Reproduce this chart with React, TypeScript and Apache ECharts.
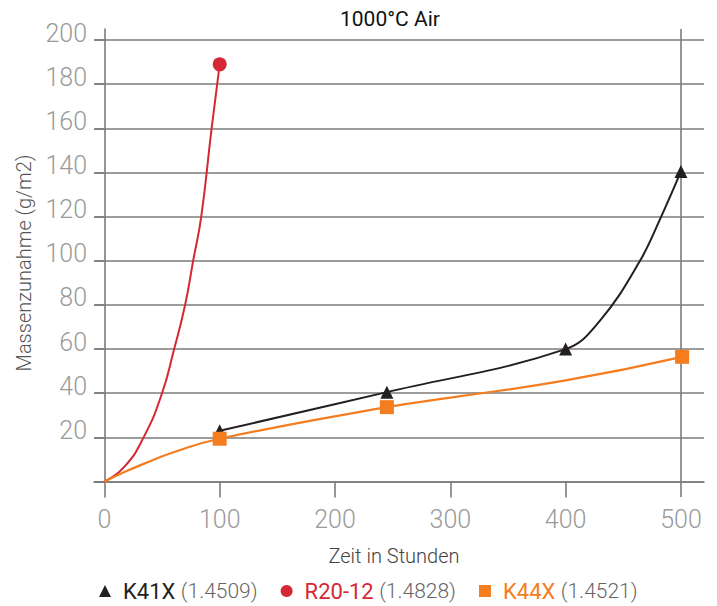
import React, { useEffect, useRef } from "react";
import * as echarts from "echarts";

// ---- data ----
const xTickValues = [0, 100, 200, 300, 400, 500];
const xMinorTickValues = [100, 200, 300, 400];
const yTickValues = [0, 20, 40, 60, 80, 100, 120, 140, 160, 180, 200];

const seriesNames = ["K41X", "R20-12", "K44X"];
const seriesCodes = ["(1.4509)", "(1.4828)", "(1.4521)"];

// measured points (with markers)
const k41xPoints = [
  [100, 23],
  [245, 40.5],
  [400, 60],
  [500, 140.5],
];
const r2012Points = [[100, 189]];
const k44xPoints = [
  [100, 19.4],
  [245, 33.7],
  [501, 56.5],
];

// additional points (no markers)
const k41xCurveRead = [
  [430, 73],
  [464.5, 100],
  [482, 119],
];
const r2012CurveRead = [
  [0, 0],
  [17, 6.5],
  [34, 20],
  [50, 40],
  [60, 59],
  [70, 80],
  [77, 100],
  [84, 120],
  [93, 160],
];
const k44xCurveRead = [
  [0, 0],
  [17, 4.2],
  [34, 8],
  [60, 13.3],
  [300, 38],
  [400, 45.8],
];

const COLORS = ["#231f20", "#d42834", "#f47d20"];
const SYMBOLS = ["triangle", "circle", "rect"];
const RICH_KEYS = ["k41", "r20", "k44"];
const GRID_COLOR = "#7b7b7b";
const FONT = "Roboto, 'Open Sans', sans-serif";

const merge = (a: number[][], b: number[][]) =>
  [...a, ...b].sort((p, q) => p[0] - q[0]);

export default function App() {
  const ref = useRef<HTMLDivElement>(null);

  useEffect(() => {
    if (!ref.current) return;
    const chart = echarts.init(ref.current, undefined, { renderer: "svg" });

    const measured = [k41xPoints, r2012Points, k44xPoints];
    const curves = [k41xCurveRead, r2012CurveRead, k44xCurveRead];
    const smooths = [0.4, 0.5, 0.5];
    const widths = [2, 2, 2.2];
    const sizes = [13, 14, 14];

    const lineSeries: any[] = seriesNames.map((name, i) => ({
      type: "line",
      name,
      data: merge(measured[i], curves[i]),
      showSymbol: false,
      smooth: smooths[i],
      color: COLORS[i],
      lineStyle: { color: COLORS[i], width: widths[i] },
      silent: true,
      z: 3,
      ...(i === 0
        ? {
            markLine: {
              silent: true,
              symbol: ["none", "none"],
              label: { show: false },
              lineStyle: { color: GRID_COLOR, width: 1.6, type: "solid" },
              emphasis: { disabled: true },
              data: [{ xAxis: 500 }],
              z: 1,
            },
          }
        : {}),
    }));

    const scatterSeries: any[] = seriesNames.map((name, i) => ({
      type: "scatter",
      name,
      data: measured[i],
      symbol: SYMBOLS[i],
      symbolSize: sizes[i],
      color: COLORS[i],
      itemStyle: { color: COLORS[i], opacity: 1 },
      silent: true,
      z: 4 + i,
    }));

    const rich: any = {
      code: { color: "#666666", fontSize: 21, fontFamily: FONT, fontWeight: 300 },
    };
    RICH_KEYS.forEach((k, i) => {
      rich[k] = {
        color: COLORS[i],
        fontSize: 22,
        fontFamily: FONT,
        padding: [0, 0, 0, 7],
      };
    });

    chart.setOption({
      animation: false,
      backgroundColor: "#ffffff",
      title: {
        text: "1000°C Air",
        left: 340,
        top: 8,
        padding: 0,
        textStyle: {
          color: "#111111",
          fontSize: 21,
          fontWeight: "normal",
          fontFamily: FONT,
        },
      },
      grid: {
        left: 94,
        top: 29,
        width: 610,
        height: 468,
        containLabel: false,
        outerBoundsMode: "none",
      },
      xAxis: {
        type: "value",
        min: -9,
        max: 520,
        name: "Zeit in Stunden",
        nameLocation: "middle",
        nameGap: 49,
        nameTextStyle: {
          color: "#444444",
          fontSize: 20,
          fontFamily: FONT,
          fontWeight: 300,
          padding: [0, 10, 0, 0],
        },
        axisLine: { onZero: true, lineStyle: { color: GRID_COLOR, width: 1.6 } },
        axisTick: {
          show: true,
          inside: false,
          length: 16,
          customValues: xMinorTickValues,
          lineStyle: { color: GRID_COLOR, width: 1.6 },
        },
        axisLabel: {
          customValues: xTickValues,
          margin: 10,
          color: "#9a9a9a",
          fontSize: 25,
          fontFamily: FONT,
          fontWeight: 300,
        },
        splitLine: { show: false },
      },
      yAxis: {
        type: "value",
        min: -7,
        max: 205,
        name: "Massenzunahme (g/m2)",
        nameLocation: "middle",
        nameRotate: 90,
        nameGap: 58,
        nameTextStyle: {
          color: "#555555",
          fontSize: 20,
          fontFamily: FONT,
          fontWeight: 300,
        },
        axisLine: { show: true, onZero: true, lineStyle: { color: GRID_COLOR, width: 1.6 } },
        axisTick: {
          show: true,
          inside: false,
          length: 10,
          customValues: yTickValues,
          lineStyle: { color: GRID_COLOR, width: 1.6 },
        },
        axisLabel: {
          customValues: yTickValues.filter((v) => v !== 0),
          margin: 7,
          color: "#9a9a9a",
          fontSize: 25,
          fontFamily: FONT,
          fontWeight: 300,
          verticalAlign: "bottom",
          lineHeight: 14,
        },
        splitLine: { show: true, lineStyle: { color: GRID_COLOR, width: 1.6 } },
      },
      legend: {
        left: 99,
        top: 579,
        padding: 0,
        itemWidth: 12,
        itemHeight: 12,
        itemGap: 23,
        selectedMode: false,
        data: seriesNames.map((name, i) => ({
          name,
          icon: SYMBOLS[i],
          itemStyle: { color: COLORS[i], borderWidth: 0, opacity: 1 },
        })),
        formatter: (name: string) => {
          const i = seriesNames.indexOf(name);
          return `{${RICH_KEYS[i]}|${name}} {code|${seriesCodes[i]}}`;
        },
        textStyle: { fontSize: 22, fontFamily: FONT, lineHeight: 24, rich },
      },
      series: [...lineSeries, ...scatterSeries],
    });

    return () => chart.dispose();
  }, []);

  return (
    <div
      ref={ref}
      style={{ position: "absolute", left: 0, top: 0, width: 717, height: 606 }}
    />
  );
}
